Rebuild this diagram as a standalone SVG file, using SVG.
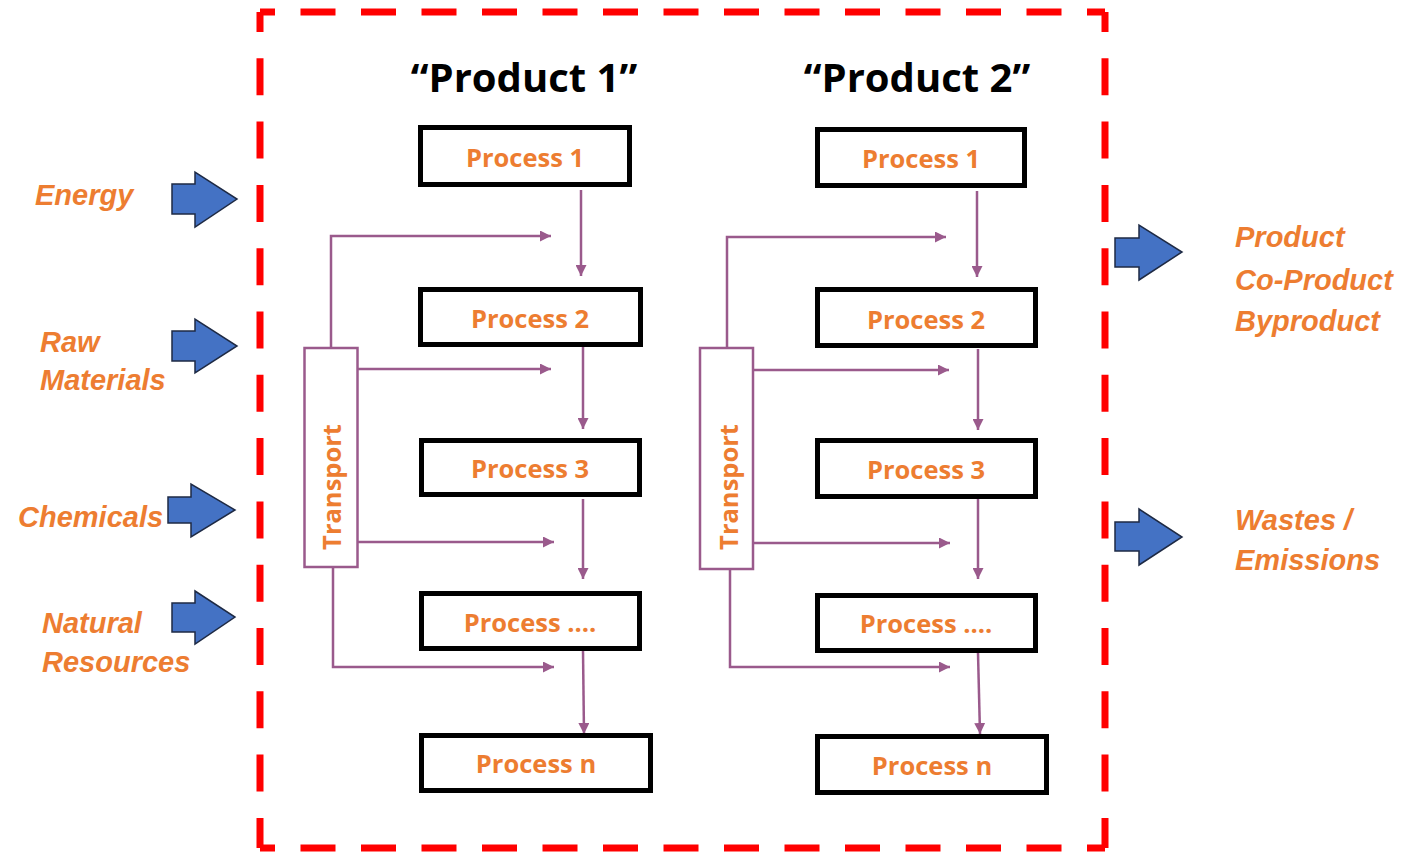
<svg xmlns="http://www.w3.org/2000/svg" width="1411" height="855" viewBox="0 0 1411 855">
<style>
.border{stroke:#FF0000;stroke-width:7;fill:none}
.bv{stroke-dasharray:37 26.3;stroke-dashoffset:17}
.bh{stroke-dasharray:35 25.5;stroke-dashoffset:20}
.box{fill:#fff;stroke:#000;stroke-width:5}
.ptxt{font-family:"Open Sans","Noto Sans",sans-serif;font-weight:700;font-size:25.5px;fill:#ED7D31;text-anchor:middle}
.title{font-family:"Open Sans","Noto Sans",sans-serif;font-weight:700;font-size:40px;fill:#000;text-anchor:middle}
.lbl{font-family:"Liberation Sans",Arial,sans-serif;font-weight:700;font-style:italic;font-size:29px;fill:#ED7D31}
.big{fill:#4472C4;stroke:#1E2A44;stroke-width:1.5}
.tbox{fill:#fff;stroke:#9A5A8C;stroke-width:2.5}
.conn{fill:none;stroke:#9A5A8C;stroke-width:2.5}
</style>
<defs>
<marker id="ah" viewBox="0 0 10 10" refX="10" refY="5" markerWidth="11" markerHeight="11" markerUnits="userSpaceOnUse" orient="auto">
<path d="M0,0 L10,5 L0,10 z" fill="#9A5A8C"/>
</marker>
</defs>
<rect width="1411" height="855" fill="#fff"/>
<g id="boundary">
<line class="border bh" x1="260" y1="12" x2="1105" y2="12"/>
<line class="border bh" x1="260" y1="848" x2="1105" y2="848"/>
<line class="border bv" x1="260" y1="12" x2="260" y2="848"/>
<line class="border bv" x1="1105" y1="12" x2="1105" y2="848"/>
</g>
<g id="inputs">
<g id="in-energy"><text class="lbl" x="35" y="205">Energy</text><polygon class="big" points="172,184 195,184 195,172 237,199 195,227 195,214 172,214"/></g>
<g id="in-raw"><text class="lbl" x="40" y="352">Raw</text><text class="lbl" x="40" y="390">Materials</text><polygon class="big" points="172,331 195,331 195,319 237,346 195,373 195,361 172,361"/></g>
<g id="in-chem"><text class="lbl" x="18" y="527">Chemicals</text><polygon class="big" points="168,497 191,497 191,484 235,510 191,537 191,523 168,523"/></g>
<g id="in-nat"><text class="lbl" x="42" y="633">Natural</text><text class="lbl" x="42" y="672">Resources</text><polygon class="big" points="172,603 195,603 195,591 235,617 195,644 195,632 172,632"/></g>
</g>
<g id="outputs">
<g id="out-prod"><polygon class="big" points="1115,238 1139,238 1139,225 1182,252 1139,280 1139,267 1115,267"/><text class="lbl" x="1235" y="247">Product</text><text class="lbl" x="1235" y="290">Co-Product</text><text class="lbl" x="1235" y="331">Byproduct</text></g>
<g id="out-waste"><polygon class="big" points="1115,522 1139,522 1139,509 1182,537 1139,565 1139,551 1115,551"/><text class="lbl" x="1235" y="530">Wastes /</text><text class="lbl" x="1235" y="570">Emissions</text></g>
</g>
<g id="titles">
<text class="title" x="524" y="92">“Product 1”</text>
<text class="title" x="917" y="92">“Product 2”</text>
</g>
<g id="connectors">
<path class="conn" marker-end="url(#ah)" d="M581 190 V276"/>
<path class="conn" marker-end="url(#ah)" d="M583 347 V429"/>
<path class="conn" marker-end="url(#ah)" d="M583 499 V579"/>
<path class="conn" marker-end="url(#ah)" d="M583 651 L584 734"/>
<path class="conn" marker-end="url(#ah)" d="M331 347 V236 H551"/>
<path class="conn" marker-end="url(#ah)" d="M358 369 H551"/>
<path class="conn" marker-end="url(#ah)" d="M358 542 H554"/>
<path class="conn" marker-end="url(#ah)" d="M333 567 V667 H554"/>
<path class="conn" marker-end="url(#ah)" d="M977 191 V277"/>
<path class="conn" marker-end="url(#ah)" d="M978 349 V430"/>
<path class="conn" marker-end="url(#ah)" d="M978 499 V579"/>
<path class="conn" marker-end="url(#ah)" d="M978 653 L980 734"/>
<path class="conn" marker-end="url(#ah)" d="M727 347 V237 H946"/>
<path class="conn" marker-end="url(#ah)" d="M753 370 H949"/>
<path class="conn" marker-end="url(#ah)" d="M753 543 H950"/>
<path class="conn" marker-end="url(#ah)" d="M730 569 V667 H950"/>
</g>
<g id="p1-transport"><rect class="tbox" x="304.5" y="348" width="53" height="219"/><text class="ptxt" transform="translate(341,487) rotate(-90)" x="0" y="0">Transport</text></g>
<g id="p1-process1"><rect class="box" x="420.5" y="127.5" width="209" height="57"/><text class="ptxt" x="525" y="167">Process 1</text></g>
<g id="p1-process2"><rect class="box" x="420.5" y="289.5" width="220" height="55"/><text class="ptxt" x="530" y="328">Process 2</text></g>
<g id="p1-process3"><rect class="box" x="421.5" y="440.5" width="218" height="54"/><text class="ptxt" x="530" y="478">Process 3</text></g>
<g id="p1-processdots"><rect class="box" x="421.5" y="593.5" width="218" height="55"/><text class="ptxt" x="530" y="632">Process ....</text></g>
<g id="p1-processn"><rect class="box" x="421.5" y="735.5" width="229" height="55"/><text class="ptxt" x="536" y="773">Process n</text></g>
<g id="p2-transport"><rect class="tbox" x="700" y="348" width="53" height="221"/><text class="ptxt" transform="translate(738,487) rotate(-90)" x="0" y="0">Transport</text></g>
<g id="p2-process1"><rect class="box" x="817.5" y="129.5" width="207" height="56"/><text class="ptxt" x="921" y="168">Process 1</text></g>
<g id="p2-process2"><rect class="box" x="817.5" y="289.5" width="218" height="56"/><text class="ptxt" x="926" y="329">Process 2</text></g>
<g id="p2-process3"><rect class="box" x="817.5" y="440.5" width="218" height="56"/><text class="ptxt" x="926" y="479">Process 3</text></g>
<g id="p2-processdots"><rect class="box" x="817.5" y="595.5" width="218" height="55"/><text class="ptxt" x="926" y="633">Process ....</text></g>
<g id="p2-processn"><rect class="box" x="817.5" y="736.5" width="229" height="56"/><text class="ptxt" x="932" y="775">Process n</text></g>
</svg>
